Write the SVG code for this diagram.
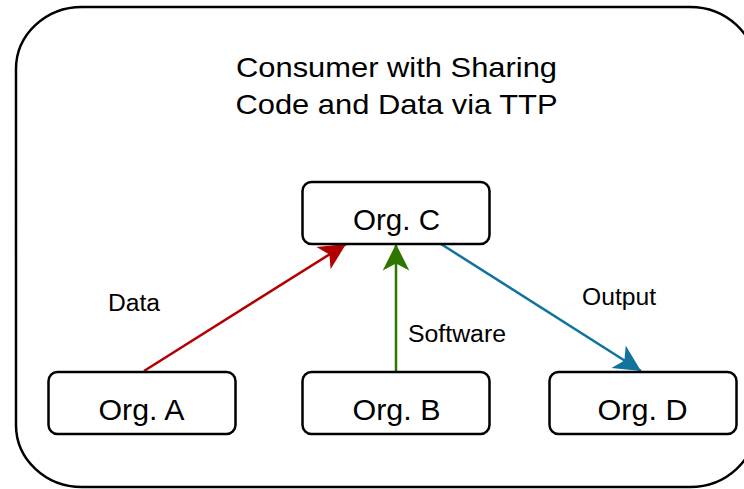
<svg xmlns="http://www.w3.org/2000/svg" width="744" height="489" viewBox="0 0 744 489">
<style>
.box{fill:#fff;stroke:#000;stroke-width:2.5}
.t{font-family:"Liberation Sans",Arial,sans-serif;fill:#000}
.lbl{font-size:30px;text-anchor:middle}
.ttl{font-size:28px;text-anchor:middle}
.el{font-size:23px}
.c{fill:none;stroke-width:2.5}
</style>
<defs>
<marker id="mr" markerUnits="userSpaceOnUse" markerWidth="30" markerHeight="30" viewBox="-24 -12 26 24" refX="0" refY="0" orient="auto"><path d="M0,0 L-23,-11.5 L-17,0 L-23,11.5 Z" fill="#B20000"/></marker>
<marker id="mg" markerUnits="userSpaceOnUse" markerWidth="30" markerHeight="30" viewBox="-24 -12 26 24" refX="0" refY="0" orient="auto"><path d="M0,0 L-23,-11.5 L-17,0 L-23,11.5 Z" fill="#2D7600"/></marker>
<marker id="mb" markerUnits="userSpaceOnUse" markerWidth="30" markerHeight="30" viewBox="-24 -12 26 24" refX="0" refY="0" orient="auto"><path d="M0,0 L-23,-11.5 L-17,0 L-23,11.5 Z" fill="#10739E"/></marker>
</defs>
<rect width="744" height="489" fill="#fff"/>
<g id="container">
<rect x="16" y="7" width="740" height="480" rx="66" ry="62" fill="#fff" stroke="#000" stroke-width="2.5"/>
<text class="t ttl" x="396.5" y="77" textLength="321" lengthAdjust="spacingAndGlyphs">Consumer with Sharing</text>
<text class="t ttl" x="396.5" y="114" textLength="322" lengthAdjust="spacingAndGlyphs">Code and Data via TTP</text>
</g>
<g id="connectors">
<line class="c" x1="144" y1="371" x2="346" y2="244" stroke="#B20000" marker-end="url(#mr)"/>
<line class="c" x1="396" y1="371" x2="396" y2="244" stroke="#2D7600" marker-end="url(#mg)"/>
<line class="c" x1="441" y1="244" x2="641" y2="371" stroke="#10739E" marker-end="url(#mb)"/>
<text class="t el" x="108" y="311" textLength="52" lengthAdjust="spacingAndGlyphs">Data</text>
<text class="t el" x="408" y="342" textLength="98" lengthAdjust="spacingAndGlyphs">Software</text>
<text class="t el" x="582" y="305" textLength="74" lengthAdjust="spacingAndGlyphs">Output</text>
</g>
<g id="orgC">
<rect class="box" x="302.5" y="182" width="187" height="62" rx="9"/>
<text class="t lbl" x="396.5" y="229.5" textLength="87" lengthAdjust="spacingAndGlyphs">Org. C</text>
</g>
<g id="orgA">
<rect class="box" x="48.5" y="372" width="187" height="62" rx="9"/>
<text class="t lbl" x="141.5" y="420" textLength="86" lengthAdjust="spacingAndGlyphs">Org. A</text>
</g>
<g id="orgB">
<rect class="box" x="302.5" y="372" width="187" height="62" rx="9"/>
<text class="t lbl" x="396.5" y="420" textLength="88" lengthAdjust="spacingAndGlyphs">Org. B</text>
</g>
<g id="orgD">
<rect class="box" x="549.5" y="372" width="187" height="62" rx="9"/>
<text class="t lbl" x="642.5" y="420" textLength="90" lengthAdjust="spacingAndGlyphs">Org. D</text>
</g>
</svg>
